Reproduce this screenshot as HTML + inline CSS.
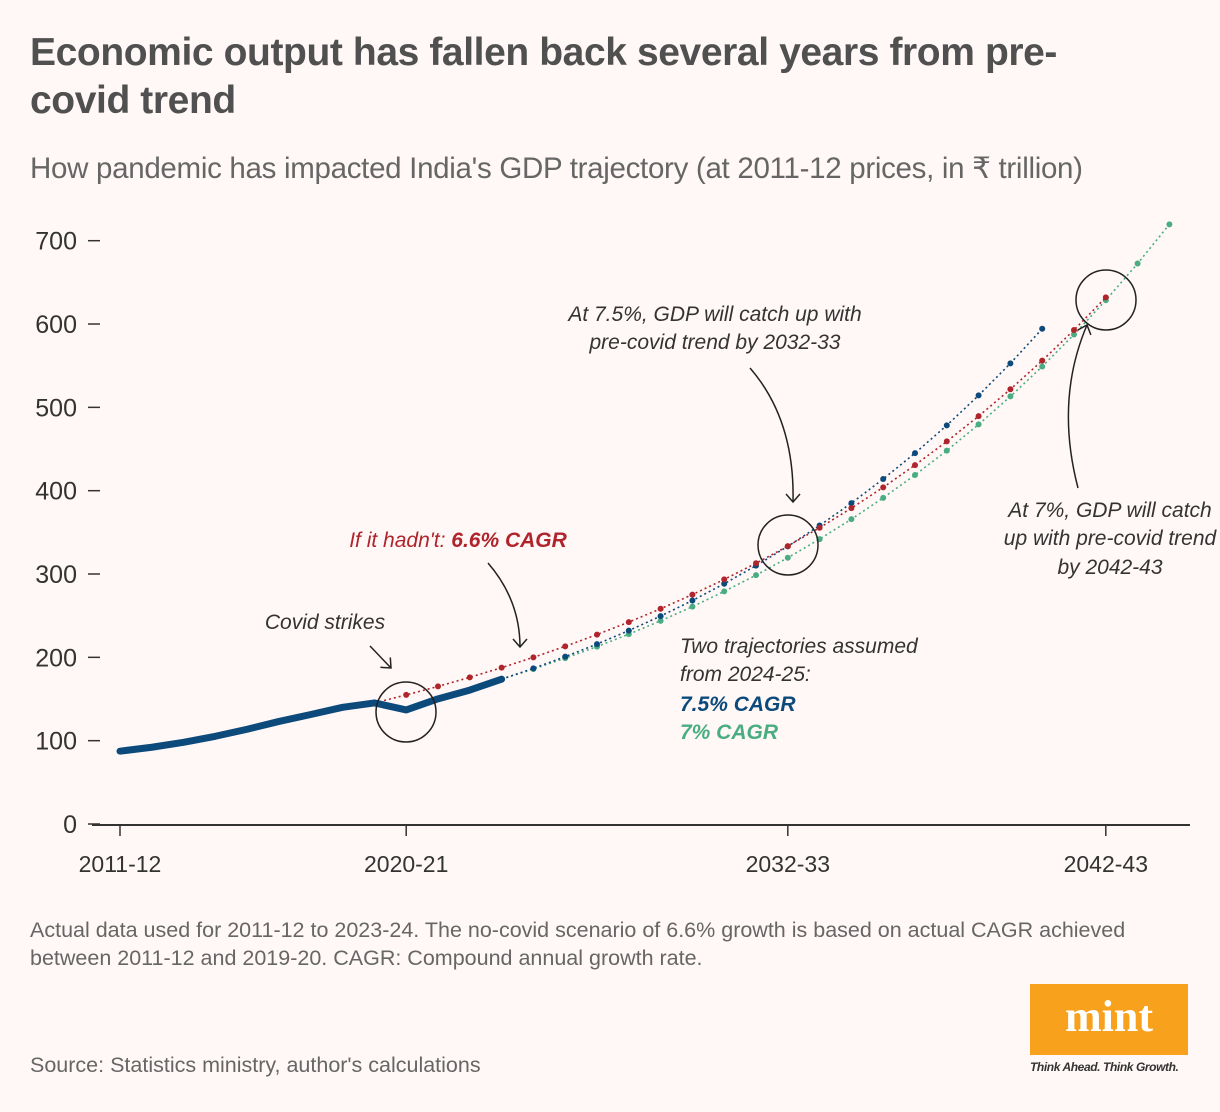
<!DOCTYPE html>
<html><head><meta charset="utf-8"><style>
body{margin:0;background:#fff8f6;}
#wrap{position:relative;width:1220px;height:1112px;background:#fff8f6;font-family:"Liberation Sans",sans-serif;overflow:hidden}
.t{position:absolute;margin:0}
</style></head><body>
<div id="wrap">
<h1 class="t" style="left:30px;top:29px;width:1180px;font-size:39px;line-height:48px;font-weight:bold;color:#505050;letter-spacing:-0.4px">Economic output has fallen back several years from pre-<br>covid trend</h1>
<div class="t" style="left:30px;top:151px;font-size:29.5px;color:#666;letter-spacing:-0.3px">How pandemic has impacted India's GDP trajectory (at 2011-12 prices, in ₹ trillion)</div>
<svg id="chart" width="1220" height="1112" style="position:absolute;left:0;top:0" xmlns="http://www.w3.org/2000/svg"></svg>
<div class="t" style="left:30px;top:916px;width:1150px;font-size:21.5px;line-height:28px;color:#666">Actual data used for 2011-12 to 2023-24. The no-covid scenario of 6.6% growth is based on actual CAGR achieved between 2011-12 and 2019-20. CAGR: Compound annual growth rate.</div>
<div class="t" style="left:30px;top:1053px;font-size:21.5px;color:#666">Source: Statistics ministry, author's calculations</div>
<div class="t" style="left:1030px;top:984px;width:158px;height:71px;background:#f7a11c;color:#fff;font-family:'Liberation Serif',serif;font-weight:bold;font-size:44px;text-align:center;line-height:66px">mint</div>
<div class="t" style="left:1030px;top:1060px;width:160px;font-size:12px;font-style:italic;font-weight:bold;color:#333;letter-spacing:-0.4px">Think Ahead. Think Growth.</div>
</div>
<script>
const actualValues=[87.4,92.1,98.0,105.3,113.7,123.1,131.4,140.0,145.3,136.9,150.2,160.7,173.8];
const noCovidValues=[145.3,154.9,165.1,176.0,187.6,200.0,213.2,227.3,242.3,258.3,275.3,293.5,312.9,333.5,355.5,379.0,404.0,430.7,459.1,489.4,521.7,556.1,592.8,632.0];
const blueValues=[173.8,186.8,200.8,215.9,232.1,249.5,268.2,288.3,310.0,333.2,358.2,385.1,414.0,445.0,478.4,514.3,552.8,594.3];
const greenValues=[173.8,186.0,199.0,212.9,227.8,243.8,260.8,279.1,298.6,319.5,341.9,365.8,391.4,418.8,448.1,479.5,513.1,549.0,587.4,628.5,672.6,719.6];
const yTicks=[0,100,200,300,400,500,600,700];
const xTickLabels=["2011-12","2020-21","2032-33","2042-43"];
const xTickIdx=[0,9,21,31];
const noCovidStart=8, projStart=12;
const NS="http://www.w3.org/2000/svg";
const svg=document.getElementById('chart');
const X=i=>120+i*31.8;
const Y=v=>824-v*0.8333;
function mk(tag,attrs,parent){const e=document.createElementNS(NS,tag);for(const k in attrs)e.setAttribute(k,attrs[k]);(parent||svg).appendChild(e);return e;}
yTicks.forEach(v=>{
 const g=mk('g',{});
 
 
 mk('line',{x1:88,x2:100,y1:Y(v),y2:Y(v),stroke:'#333','stroke-width':1.5},g);
 const t=mk('text',{x:77,y:Y(v)+9,'text-anchor':'end','font-size':25,fill:'#333','font-family':'Liberation Sans, sans-serif'},g);t.textContent=v;
});
const ax=mk('line',{x1:92,x2:1190,y1:825,y2:825,stroke:'#333','stroke-width':2});


xTickLabels.forEach((l,k)=>{
 const g=mk('g',{});
 
 
 const x=X(xTickIdx[k]);
 mk('line',{x1:x,x2:x,y1:825,y2:836,stroke:'#333','stroke-width':1.5},g);
 const t=mk('text',{x:x,y:872,'text-anchor':'middle','font-size':23,fill:'#333','font-family':'Liberation Sans, sans-serif'},g);t.textContent=l;
});
function series(vals,start,color,name,dotsFrom){
 const g=mk('g',{});
 
 
 mk('polyline',{points:vals.map((v,i)=>X(start+i)+','+Y(v)).join(' '),fill:'none',stroke:color,'stroke-width':1.6,'stroke-dasharray':'2 3'},g);
 vals.forEach((v,i)=>{if(i>=dotsFrom){const c=mk('circle',{cx:X(start+i),cy:Y(v),r:3,fill:color},g);
  
  }});
}
series(greenValues,projStart,'#4aad82','green-7pct-line',1);
series(blueValues,projStart,'#0c4a7c','blue-7-5pct-line',1);
series(noCovidValues,noCovidStart,'#b0242b','red-no-covid-line',1);
const act=mk('polyline',{points:actualValues.map((v,i)=>X(i)+','+Y(v)).join(' '),fill:'none',stroke:'#0c4a7c','stroke-width':7,'stroke-linecap':'round','stroke-linejoin':'round'});


[[406,712],[788,545],[1106,300]].forEach((c,k)=>{const e=mk('circle',{cx:c[0],cy:c[1],r:30,fill:'none',stroke:'#222','stroke-width':1.5});
 
 });
function arrow(d,hx,hy,ang){const g=mk('g',{fill:'none',stroke:'#222','stroke-width':1.5});
 
 
 mk('path',{d:d},g);
 mk('path',{d:'M-7,-8 L0,0 L7,-8',transform:`translate(${hx},${hy}) rotate(${ang})`},g);}
arrow('M370,646 L391,668',391,668,-45);
arrow('M488,563 Q520,600 520,647',520,647,0);
arrow('M750,368 Q795,420 793,502',793,502,0);
arrow('M1078,488 Q1055,400 1087,325',1087,325,200);
function txt(x,y,str,opts,name){const t=mk('text',Object.assign({x:x,y:y,'font-family':'Liberation Sans, sans-serif','font-size':21,'font-style':'italic',fill:'#333'},opts||{}));t.innerHTML=str;
 
 }
txt(325,629,'Covid strikes',{'text-anchor':'middle'},'covid-strikes-label');
txt(458,547,'If it hadn\'t: <tspan font-weight="bold">6.6% CAGR</tspan>',{'text-anchor':'middle',fill:'#b0242b'},'no-covid-label');
txt(715,321,'At 7.5%, GDP will catch up with',{'text-anchor':'middle'},'catchup-7-5-label');
txt(715,349,'pre-covid trend by 2032-33',{'text-anchor':'middle'},'catchup-7-5-label-2');
txt(1110,517,'At 7%, GDP will catch',{'text-anchor':'middle'},'catchup-7-label');
txt(1110,545,'up with pre-covid trend',{'text-anchor':'middle'},'catchup-7-label-2');
txt(1110,574,'by 2042-43',{'text-anchor':'middle'},'catchup-7-label-3');
txt(680,653,'Two trajectories assumed',{},'trajectories-label');
txt(680,681,'from 2024-25:',{},'trajectories-label-2');
txt(680,711,'7.5% CAGR',{'font-weight':'bold',fill:'#0c4a7c'},'legend-7-5-cagr');
txt(680,739,'7% CAGR',{'font-weight':'bold',fill:'#4aad82'},'legend-7-cagr');
</script>
</body></html>
